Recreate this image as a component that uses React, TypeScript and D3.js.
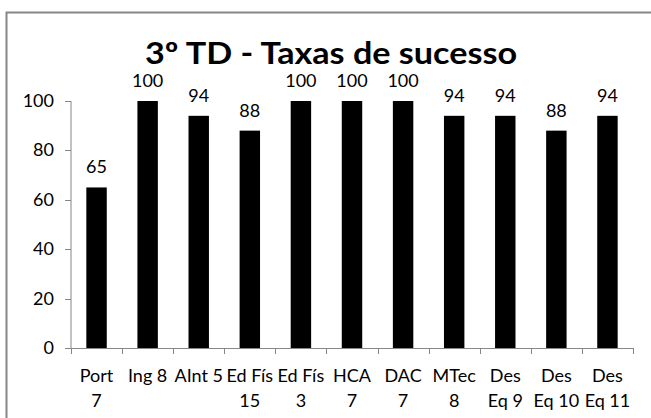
import React from "react";
import * as d3 from "d3";

const categories = ["Port 7", "Ing 8", "AInt 5", "Ed Fís 15", "Ed Fís 3", "HCA 7", "DAC 7", "MTec 8", "Des Eq 9", "Des Eq 10", "Des Eq 11"];
const categoryLines = [["Port", "7"], ["Ing 8"], ["AInt 5"], ["Ed Fís", "15"], ["Ed Fís", "3"], ["HCA", "7"], ["DAC", "7"], ["MTec", "8"], ["Des", "Eq 9"], ["Des", "Eq 10"], ["Des", "Eq 11"]];
const values = [65, 100, 94, 88, 100, 100, 100, 94, 94, 88, 94];
const yTicks = [0, 20, 40, 60, 80, 100];
const title = "3º TD - Taxas de sucesso";

const W = 651, H = 418;
const FONT = "Lato, 'Open Sans', sans-serif";
const AXIS = "#868686";

export default function App() {
  const x = d3.scaleBand<string>().domain(categories).range([71, 633]).paddingInner(0.6).paddingOuter(0.3);
  const y = d3.scaleLinear().domain([0, 100]).range([348, 101]);
  const step = x.step();
  const x0 = 71;
  return (
    <svg width={W} height={H} style={{ position: "absolute", left: 0, top: 0, background: "#fff" }}>
      <rect x={0} y={0} width={W} height={H} fill="#fff" />
      <rect x={6.5} y={12.5} width={700} height={500} fill="none" stroke={AXIS} strokeWidth={2} />
      <text x={331} y={64} textAnchor="middle" fontFamily={FONT} fontWeight="bold" fontSize={30} textLength={372} lengthAdjust="spacingAndGlyphs" fill="#000">{title}</text>
      {/* y axis */}
      <line x1={x0} x2={x0} y1={y(100)} y2={y(0)} stroke={AXIS} strokeWidth={1} />
      {yTicks.map((t) => (
        <g key={t}>
          <line x1={x0 - 6} x2={x0} y1={Math.round(y(t)) + 0.5} y2={Math.round(y(t)) + 0.5} stroke={AXIS} />
          <text x={54} y={y(t) + 6} textAnchor="end" fontFamily={FONT} fontSize={18} fill="#000">{t}</text>
        </g>
      ))}
      {/* bars */}
      {categories.map((c, i) => (
        <g key={c}>
          <rect x={x(c)} y={y(values[i])} width={x.bandwidth()} height={y(0) - y(values[i])} fill="#000" />
          <text x={(x(c) as number) + x.bandwidth() / 2} y={y(values[i]) - 14} textAnchor="middle" fontFamily={FONT} fontSize={18} fill="#000">{values[i]}</text>
        </g>
      ))}
      {/* x axis */}
      <line x1={x0} x2={633} y1={348.5} y2={348.5} stroke={AXIS} />
      {d3.range(categories.length + 1).map((k) => (
        <line key={k} x1={Math.round(x0 + k * step) + 0.5} x2={Math.round(x0 + k * step) + 0.5} y1={348} y2={354} stroke={AXIS} />
      ))}
      {categories.map((c, i) => (
        <text key={c} x={(x(c) as number) + x.bandwidth() / 2} y={382} textAnchor="middle" fontFamily={FONT} fontSize={18} fill="#000">
          {categoryLines[i].map((l, j) => (
            <tspan key={j} x={(x(c) as number) + x.bandwidth() / 2} dy={j === 0 ? 0 : 25}>{l}</tspan>
          ))}
        </text>
      ))}
    </svg>
  );
}
